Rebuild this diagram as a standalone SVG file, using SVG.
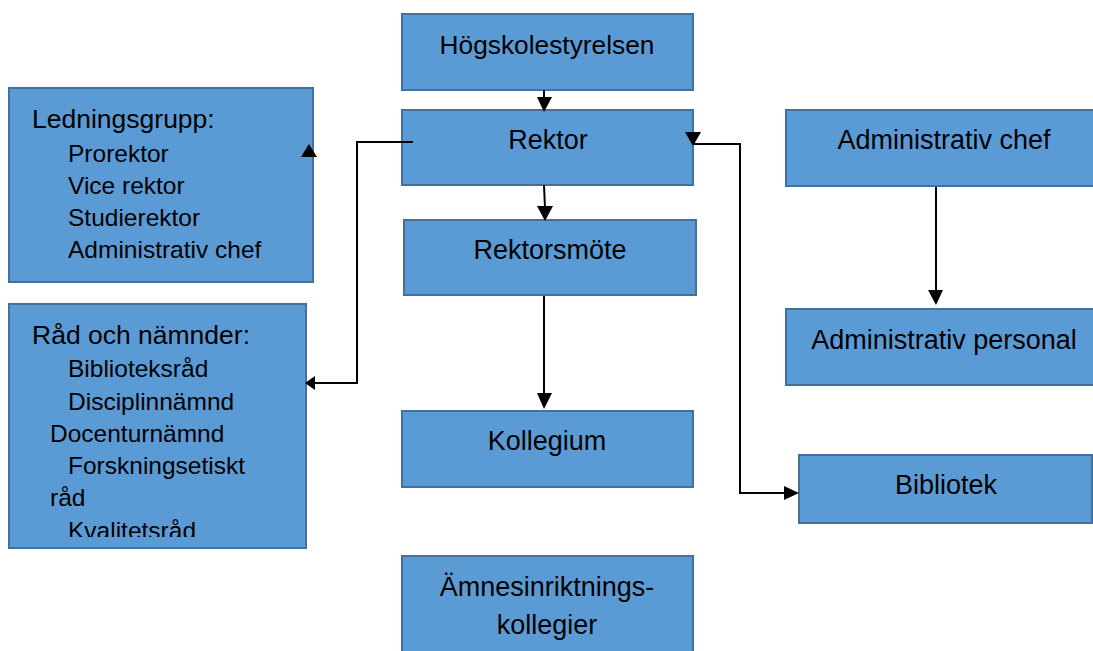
<svg xmlns="http://www.w3.org/2000/svg" width="1093" height="651" viewBox="0 0 1093 651">
<style>
.box{fill:#5b9bd5;stroke:#41719c;stroke-width:2}
.t{font-family:"Liberation Sans",Arial,sans-serif;font-size:27px;fill:#000}
.c{text-anchor:middle}
.s{font-family:"Liberation Sans",Arial,sans-serif;font-size:24.5px;fill:#000}
.h{font-size:26.5px}
.ln{fill:none;stroke:#000;stroke-width:2}
.ah{fill:#000}
</style>
<defs>
<clipPath id="clipRad"><rect x="9" y="304" width="297" height="233"/></clipPath>
</defs>
<g id="hogskolestyrelsen"><rect class="box" x="402" y="14" width="291" height="76"/><text class="t c" x="547" y="54" style="font-size:26.3px">Högskolestyrelsen</text></g>
<g id="rektor"><rect class="box" x="402" y="110" width="291" height="75"/><text class="t c" x="548" y="149">Rektor</text></g>
<g id="rektorsmote"><rect class="box" x="404" y="220" width="292" height="75"/><text class="t c" x="550" y="259">Rektorsmöte</text></g>
<g id="kollegium"><rect class="box" x="402" y="411" width="291" height="76"/><text class="t c" x="547" y="450">Kollegium</text></g>
<g id="amnesinriktningskollegier"><rect class="box" x="402" y="556" width="291" height="110"/><text class="t c" x="547" y="596">Ämnesinriktnings-</text><text class="t c" x="547" y="634">kollegier</text></g>
<g id="ledningsgrupp"><rect class="box" x="9" y="88" width="304" height="194"/>
<text class="s h" x="32" y="128">Ledningsgrupp:</text>
<text class="s" x="68" y="162">Prorektor</text>
<text class="s" x="68" y="194">Vice rektor</text>
<text class="s" x="68" y="226">Studierektor</text>
<text class="s" x="68" y="258">Administrativ chef</text></g>
<g id="rad-och-namnder"><rect class="box" x="9" y="304" width="297" height="244"/>
<g clip-path="url(#clipRad)">
<text class="s h" x="32" y="344">Råd och nämnder:</text>
<text class="s" x="68" y="377">Biblioteksråd</text>
<text class="s" x="68" y="410">Disciplinnämnd</text>
<text class="s" x="50" y="442">Docenturnämnd</text>
<text class="s" x="68" y="474">Forskningsetiskt</text>
<text class="s" x="50" y="506">råd</text>
<text class="s" x="68" y="539">Kvalitetsråd</text>
</g></g>
<g id="administrativ-chef"><rect class="box" x="786" y="110" width="320" height="76"/><text class="t c" x="944" y="149">Administrativ chef</text></g>
<g id="administrativ-personal"><rect class="box" x="786" y="309" width="320" height="76"/><text class="t c" x="944" y="349">Administrativ personal</text></g>
<g id="bibliotek"><rect class="box" x="799" y="455" width="293" height="68"/><text class="t c" x="946" y="494">Bibliotek</text></g>
<g id="connectors">
<line class="ln" x1="544" y1="90" x2="544" y2="100"/><polygon class="ah" points="537,97 552,97 544,112"/>
<line class="ln" x1="544" y1="185" x2="545" y2="208"/><polygon class="ah" points="537,206 553,206 545,221"/>
<line class="ln" x1="544" y1="296" x2="544" y2="396"/><polygon class="ah" points="537,393 552,393 544,409"/>
<line class="ln" x1="936" y1="187" x2="936" y2="292"/><polygon class="ah" points="928,290 943,290 936,305"/>
<polyline class="ln" points="413,142 357,142 357,383 314,383"/><polygon class="ah" points="305,383 315,376 315,390"/>
<polygon class="ah" points="301,157 317,157 309,144"/>
<polyline class="ln" points="693,144 740,144 740,493 786,493"/><polygon class="ah" points="685,132 701,132 693,146"/><polygon class="ah" points="784,486 784,500 799,493"/>
</g>
</svg>
